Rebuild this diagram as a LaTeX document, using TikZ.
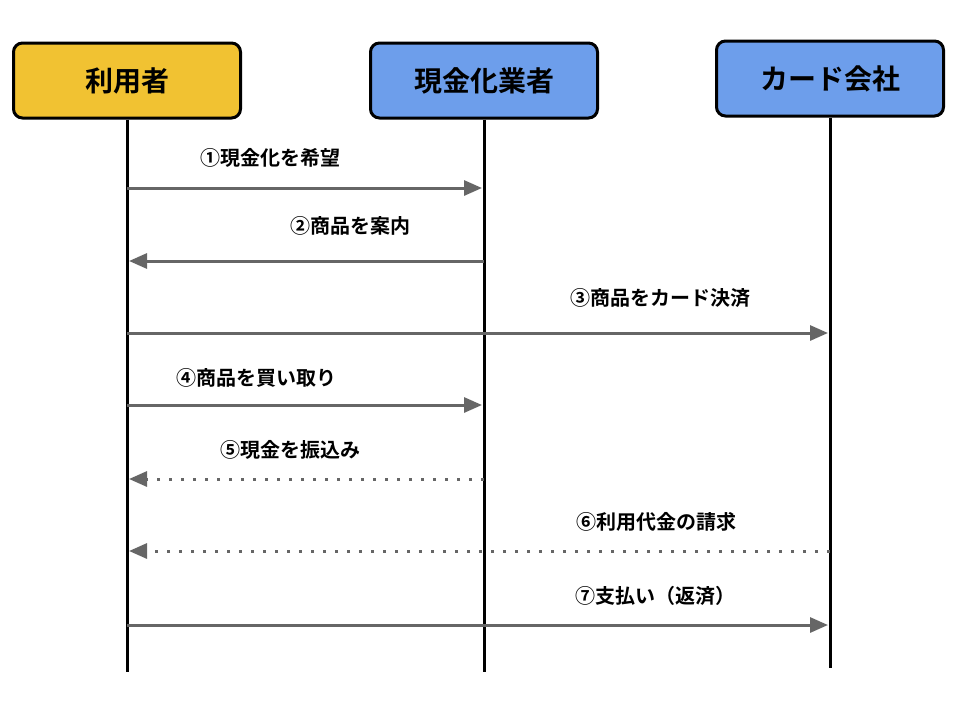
\documentclass[tikz,border=0pt]{standalone}
\usepackage{fontspec}
\newfontfamily\cjk{Noto Sans CJK JP}[BoldFont={Noto Sans CJK JP Bold}]
\usetikzlibrary{arrows.meta}
\definecolor{yel}{HTML}{F1C232}
\definecolor{blu}{HTML}{6D9EEB}
\definecolor{arr}{HTML}{666666}
\begin{document}
\begin{tikzpicture}[x=1pt,y=-1pt,
 box/.style={draw=black,line width=3pt,rounded corners=9pt,minimum width=227pt,minimum height=75pt,font=\cjk\bfseries\fontsize{28}{32}\selectfont},
 life/.style={line width=3pt,black},
 msg/.style={draw=arr,line width=3pt,-{Triangle[length=18pt,width=15pt]},shorten >=2pt},
 dot/.style={msg,dash pattern=on 3pt off 9pt},
 lab/.style={font=\cjk\bfseries\fontsize{20}{24}\selectfont}]
\useasboundingbox (0,0) rectangle (960,720);
\node[box,fill=yel] (A) at (127,80.5) {利用者};
\node[box,fill=blu] (B) at (484,80.5) {現金化業者};
\node[box,fill=blu] (C) at (830,78.5) {カード会社};
\coordinate (Ae) at (127,672); \coordinate (Be) at (484,672); \coordinate (Ce) at (830,668);
\draw[life] (A.south) -- (Ae); \draw[life] (B.south) -- (Be); \draw[life] (C.south) -- (Ce);
\foreach \n/\y in {1/188,2/261,3/333,4/405,5/479,6/551,7/625}{
 \coordinate (a\n) at (127,\y); \coordinate (b\n) at (484,\y); \coordinate (c\n) at (830,\y);}
\draw[msg] (a1) -- (b1);
\draw[msg] (b2) -- (a2);
\draw[msg] (a3) -- (c3);
\draw[msg] (a4) -- (b4);
\draw[dot] (b5) -- (a5);
\draw[dot] (c6) -- (a6);
\draw[msg] (a7) -- (c7);
\node[lab] (l1) at (270,158) {①現金化を希望};
\node[lab] (l2) at (350,226) {②商品を案内};
\node[lab] (l3) at (660,298) {③商品をカード決済};
\node[lab] (l4) at (256,378) {④商品を買い取り};
\node[lab] (l5) at (290,450) {⑤現金を振込み};
\node[lab] (l6) at (656,522) {⑥利用代金の請求};
\node[lab] (l7) at (655,596) {⑦支払い（返済）};
\end{tikzpicture}
\end{document}
